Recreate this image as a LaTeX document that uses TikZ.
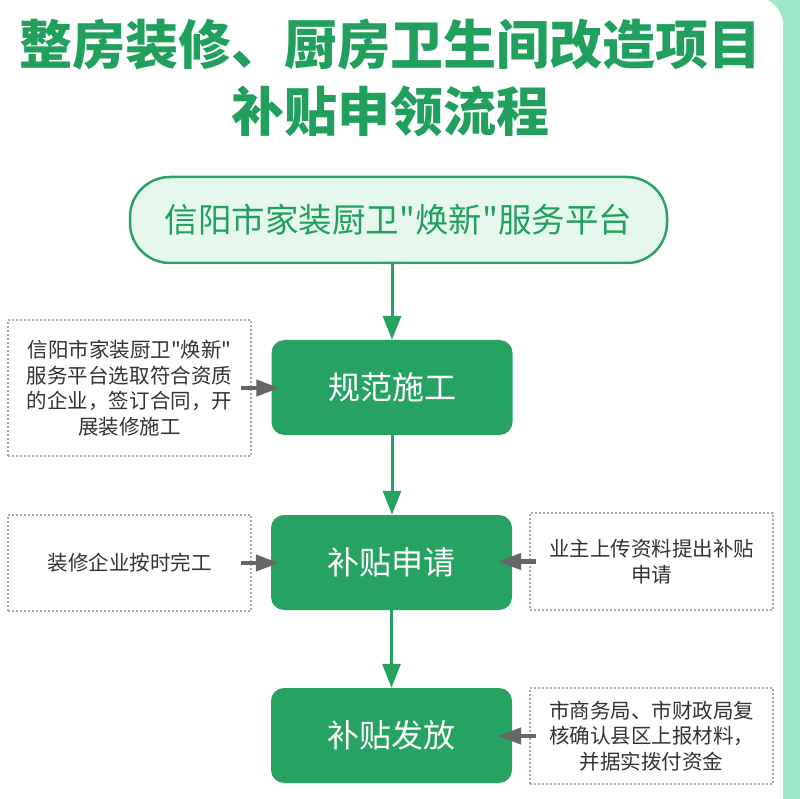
\documentclass[tikz,border=0pt]{standalone}
\usepackage{fontspec}
\newfontfamily\cjk{Noto Sans CJK SC}
\usetikzlibrary{arrows.meta}
\definecolor{strip}{HTML}{A0E6C8}
\definecolor{titlegreen}{HTML}{20A05C}
\definecolor{boxgreen}{HTML}{26A263}
\definecolor{pillfill}{HTML}{E6F8EE}
\definecolor{pillline}{HTML}{2AA464}
\definecolor{txtgray}{HTML}{333333}
\definecolor{dashgray}{HTML}{AAAAAA}
\definecolor{arrowgray}{HTML}{666666}
\tikzset{
  stepbox/.style={fill=boxgreen, text=white, rounded corners=13pt, minimum width=241pt, minimum height=95pt, inner sep=0pt, font=\cjk\fontsize{32}{36}\selectfont},
  notebox/.style={draw=dashgray, line width=1.2pt, dash pattern=on 2pt off 2pt, minimum width=243pt, inner sep=0pt, align=center, text=txtgray, font=\cjk\fontsize{20.5}{25.5}\selectfont},
  greenarrow/.style={draw=boxgreen, line width=3pt, -{Triangle[width=18pt,length=24pt]}},
  grayarrow/.style={draw=arrowgray, line width=4.5pt, -{Triangle[width=16pt,length=23pt]}},
}
\begin{document}
\begin{tikzpicture}[x=1pt,y=-1pt]
\useasboundingbox (0,0) rectangle (800,799);
\clip (0,0) rectangle (800,799);
\fill[strip] (0,0) rectangle (800,799);
\fill[white, rounded corners=28pt] (-40,-3) rectangle (783,840);
% title
\node[text=titlegreen, align=center, inner sep=0pt, font=\cjk\bfseries\fontsize{53}{67}\selectfont] (title) at (390,78.5) {整房装修、厨房卫生间改造项目\\补贴申领流程};
% platform pill
\node[draw=pillline, fill=pillfill, line width=2.5pt, rounded corners=40pt, minimum width=537pt, minimum height=86pt, inner sep=0pt, text=titlegreen, font=\cjk\fontsize{33.5}{38}\selectfont] (pill) at (398.5,220) {信阳市家装厨卫"焕新"服务平台};
% steps
\node[stepbox] (b1) at (392,387.5) {规范施工};
\node[stepbox] (b2) at (391.5,562.5) {补贴申请};
\node[stepbox] (b3) at (391.5,735.5) {补贴发放};
% notes
\node[notebox, minimum height=136pt] (l1) at (129.5,388) {信阳市家装厨卫"焕新"\\服务平台选取符合资质\\的企业，签订合同，开\\展装修施工};
\node[notebox, minimum height=96pt] (l2) at (129.5,563) {装修企业按时完工};
\node[notebox, minimum height=97pt] (r1) at (651.5,561.5) {业主上传资料提出补贴\\申请};
\node[notebox, minimum height=96pt] (r2) at (651.5,736) {市商务局、市财政局复\\核确认县区上报材料，\\并据实拨付资金};
% connectors
\draw[greenarrow] (b1.north |- pill.south) -- (b1.north);
\draw[greenarrow] (b1.south) -- (b1.south |- b2.north);
\draw[greenarrow] (b2.south) -- (b2.south |- b3.north);
\draw[grayarrow] ([xshift=-11pt]l1.east) -- ([xshift=8pt]l1.east -| b1.west);
\draw[grayarrow] ([xshift=-11pt]l2.east) -- ([xshift=8pt]l2.east -| b2.west);
\draw[grayarrow] ([xshift=7pt]r1.west) -- ([xshift=-14pt]r1.west -| b2.east);
\draw[grayarrow] ([xshift=7pt]r2.west) -- ([xshift=-14pt]r2.west -| b3.east);
\end{tikzpicture}
\end{document}
